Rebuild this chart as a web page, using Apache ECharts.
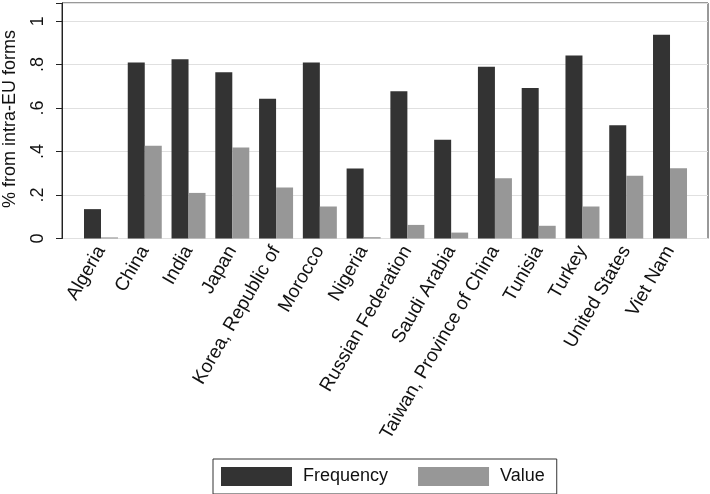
<!DOCTYPE html>
<html>
<head>
<meta charset="utf-8">
<script src="https://cdn.jsdelivr.net/npm/echarts@6/dist/echarts.min.js"></script>
<style>
html,body{margin:0;padding:0;background:#fff;}
#c{width:710px;height:494px;}
</style>
</head>
<body>
<div id="c"></div>
<script>
var categories = ['Algeria','China','India','Japan','Korea, Republic of','Morocco','Nigeria','Russian Federation','Saudi Arabia','Taiwan, Province of China','Tunisia','Turkey','United States','Viet Nam'];
var frequency = [0.134, 0.803, 0.818, 0.759, 0.637, 0.803, 0.319, 0.672, 0.450, 0.783, 0.687, 0.835, 0.517, 0.929];
var valueShare = [0.005, 0.423, 0.208, 0.415, 0.233, 0.146, 0.006, 0.062, 0.027, 0.275, 0.058, 0.146, 0.286, 0.321];
var yTicks = ['0', '.2', '.4', '.6', '.8', '1'];
var yTitle = '% from intra-EU forms';

var FONT = "'Liberation Sans', Arial, Helvetica, sans-serif";
var YMAX = 1.0835;

var chart = echarts.init(document.getElementById('c'), null, {renderer: 'canvas'});
chart.setOption({
  backgroundColor: '#ffffff',
  animation: false,
  textStyle: {fontFamily: FONT},
  graphic: [
    {type: 'text', x: 10, y: 119, rotation: Math.PI / 2,
     style: {text: yTitle, fill: '#111', font: "18px " + FONT, textAlign: 'center', textVerticalAlign: 'middle'}}
  ],
  grid: [
    {left: 62, right: 2, top: 1, bottom: 255.5, show: true, borderColor: '#333', borderWidth: 1, backgroundColor: 'transparent'},
    {left: 79.1, right: 18.1, top: 1, bottom: 255.5}
  ],
  xAxis: [
    {type: 'value', gridIndex: 0, min: 0, max: 1, show: false},
    {type: 'category', gridIndex: 1, data: categories, boundaryGap: true,
     axisLine: {show: false}, axisTick: {show: false},
     axisLabel: {rotate: 60, fontSize: 19, color: '#111', margin: 9, interval: 0, fontFamily: FONT}}
  ],
  yAxis: [
    {type: 'value', gridIndex: 0, min: 0, max: YMAX, interval: 0.2,
     axisLine: {show: true, lineStyle: {color: '#222', width: 1}},
     axisTick: {show: true, length: 6, lineStyle: {color: '#222'}},
     axisLabel: {rotate: 90, fontSize: 18, color: '#111', margin: 15, fontFamily: FONT,
       formatter: function (v) {
         var i = Math.round(v / 0.2);
         if (Math.abs(v - i * 0.2) < 1e-6 && i >= 0 && i < yTicks.length) return yTicks[i];
         return '';
       }},
     splitLine: {show: true, lineStyle: {color: '#e0e0e0', width: 1}}
    },
    {type: 'value', gridIndex: 1, min: 0, max: YMAX, show: false, splitLine: {show: false}}
  ],
  legend: {
    left: 213, top: 459, orient: 'horizontal',
    itemWidth: 71, itemHeight: 19, itemGap: 30,
    padding: [8, 12, 8, 8],
    borderColor: '#333', borderWidth: 1,
    icon: 'rect',
    textStyle: {fontSize: 18, color: '#111', fontFamily: FONT, padding: [0, 0, 0, 6]},
    data: ['Frequency', 'Value']
  },
  series: [
    {name: 'Frequency', type: 'bar', xAxisIndex: 1, yAxisIndex: 1, data: frequency,
     barWidth: 17, barGap: '0%', itemStyle: {color: '#333333'}},
    {name: 'Value', type: 'bar', xAxisIndex: 1, yAxisIndex: 1, data: valueShare,
     barWidth: 17, barGap: '0%', itemStyle: {color: '#979797'}}
  ]
});
</script>
</body>
</html>
